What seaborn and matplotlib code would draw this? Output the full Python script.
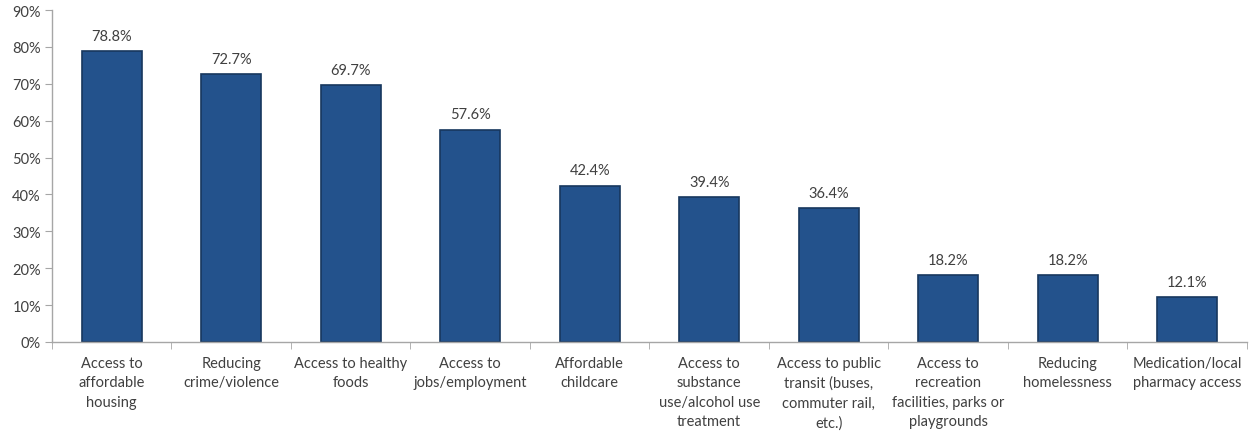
import numpy as np
import pandas as pd
import matplotlib
matplotlib.use("Agg")
import matplotlib.pyplot as plt
import seaborn as sns
from matplotlib.ticker import FuncFormatter, FixedLocator

categories = [
    "Access to\naffordable\nhousing",
    "Reducing\ncrime/violence",
    "Access to healthy\nfoods",
    "Access to\njobs/employment",
    "Affordable\nchildcare",
    "Access to\nsubstance\nuse/alcohol use\ntreatment",
    "Access to public\ntransit (buses,\ncommuter rail,\netc.)",
    "Access to\nrecreation\nfacilities, parks or\nplaygrounds",
    "Reducing\nhomelessness",
    "Medication/local\npharmacy access",
]
values = [78.8, 72.7, 69.7, 57.6, 42.4, 39.4, 36.4, 18.2, 18.2, 12.1]

df = pd.DataFrame({"category": categories, "value": values})

sns.set_style("white")
plt.rcParams["font.family"] = ["Lato", "DejaVu Sans"]

fig = plt.figure(figsize=(12.56, 4.35), dpi=100)
ax = fig.add_axes([0.0414, 0.2115, 0.9514, 0.7632])

sns.barplot(data=df, x="category", y="value", ax=ax, color="#23528C",
            width=0.5, edgecolor="#17375E", linewidth=1.2, saturation=1)

text_color = "#404040"
for i, v in enumerate(values):
    ax.text(i, v + 2.2, f"{v:.1f}%", ha="center", va="bottom",
            fontsize=10.5, color=text_color)

ax.set_ylim(0, 90)
ax.set_xlim(-0.5, len(categories) - 0.5)
ax.set_yticks(np.arange(0, 91, 10))
ax.yaxis.set_major_formatter(FuncFormatter(lambda y, _: f"{y:.0f}%"))
ax.set_xlabel("")
ax.set_ylabel("")

for s in ["top", "right"]:
    ax.spines[s].set_visible(False)
for s in ["left", "bottom"]:
    ax.spines[s].set_color("#A6A6A6")
    ax.spines[s].set_linewidth(1)

ax.tick_params(axis="y", which="major", length=5, color="#A6A6A6",
               labelsize=10.5, labelcolor=text_color, left=True, pad=3)
ax.tick_params(axis="x", which="major", length=0, labelsize=10.5,
               labelcolor=text_color, pad=10)
for lbl in ax.get_xticklabels():
    lbl.set_linespacing(1.5)
ax.xaxis.set_minor_locator(FixedLocator(np.arange(-0.5, len(categories), 1)))
ax.tick_params(axis="x", which="minor", length=5, color="#A6A6A6", bottom=True)

fig.savefig("out.png", dpi=100)
